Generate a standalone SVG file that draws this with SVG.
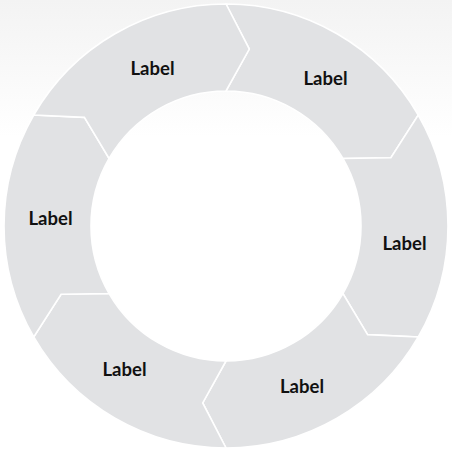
<svg xmlns="http://www.w3.org/2000/svg" width="452" height="455" viewBox="0 0 452 455">
<defs>
<linearGradient id="bg" x1="0" y1="0" x2="0" y2="1">
<stop offset="0" stop-color="#f3f3f3"/>
<stop offset="0.3" stop-color="#ffffff"/>
<stop offset="1" stop-color="#ffffff"/>
</linearGradient>
<style>
.seg{fill:#e1e2e4;stroke:#ffffff;stroke-width:1.6;stroke-linejoin:miter}
.lbl{font-family:Lato,"Open Sans","Liberation Sans",sans-serif;font-weight:bold;font-size:18.5px;fill:#111111;text-anchor:middle}
</style>
</defs>
<rect x="0" y="0" width="452" height="455" fill="url(#bg)"/>
<g id="connectors"></g>
<g id="node1">
<path class="seg" d="M226,4 A222,222 0 0 1 418.26,115 L390.91,157.69 L342.91,158.5 A135,135 0 0 0 226,91 L249.3,49.03 Z"/>
<text class="lbl" x="325.5" y="85">Label</text>
</g>
<g id="node2">
<path class="seg" d="M418.26,115 A222,222 0 0 1 418.26,337 L367.61,334.66 L342.91,293.5 A135,135 0 0 0 342.91,158.5 L390.91,157.69 Z"/>
<text class="lbl" x="404.5" y="250">Label</text>
</g>
<g id="node3">
<path class="seg" d="M418.26,337 A222,222 0 0 1 226,448 L202.7,402.97 L226,361 A135,135 0 0 0 342.91,293.5 L367.61,334.66 Z"/>
<text class="lbl" x="302" y="393">Label</text>
</g>
<g id="node4">
<path class="seg" d="M226,448 A222,222 0 0 1 33.74,337 L61.09,294.31 L109.09,293.5 A135,135 0 0 0 226,361 L202.7,402.97 Z"/>
<text class="lbl" x="124.5" y="376">Label</text>
</g>
<g id="node5">
<path class="seg" d="M33.74,337 A222,222 0 0 1 33.74,115 L84.39,117.34 L109.09,158.5 A135,135 0 0 0 109.09,293.5 L61.09,294.31 Z"/>
<text class="lbl" x="50.5" y="225">Label</text>
</g>
<g id="node6">
<path class="seg" d="M33.74,115 A222,222 0 0 1 226,4 L249.3,49.03 L226,91 A135,135 0 0 0 109.09,158.5 L84.39,117.34 Z"/>
<text class="lbl" x="152.5" y="75">Label</text>
</g>
</svg>
